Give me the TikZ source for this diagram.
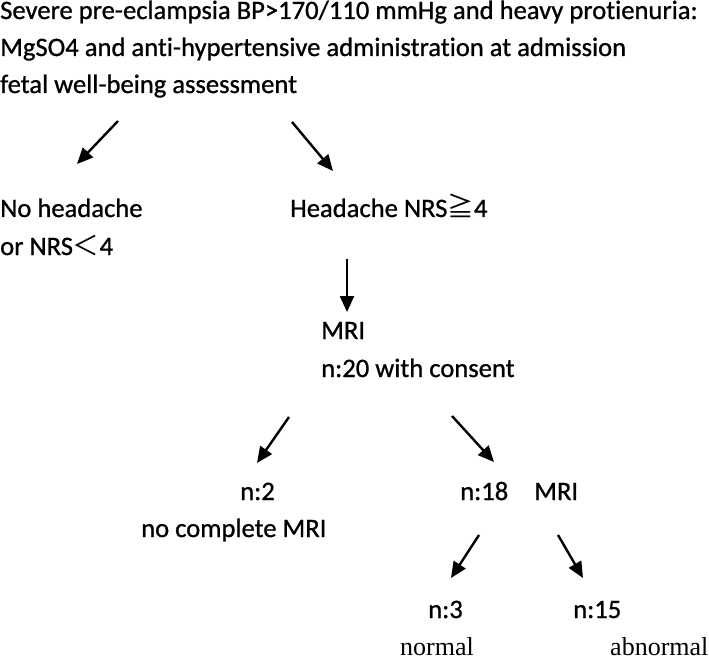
\documentclass[tikz,border=0pt]{standalone}
\usepackage{fontspec}
\setmainfont{Carlito}[Ligatures=NoCommon,FakeBold=0.9]
\newfontfamily\cjk{Noto Sans CJK JP}
\newfontfamily\timesface{Liberation Serif}
\usetikzlibrary{arrows.meta}

\begin{document}
\begin{tikzpicture}[x=1pt,y=-1pt]
		\tikzstyle{txt}=[anchor=base west,inner sep=0pt,font=\fontsize{26.6}{30}\selectfont]
		\tikzstyle{serif}=[anchor=base west,inner sep=0pt,font=\timesface\fontsize{26}{30}\selectfont]
		\tikzstyle{arr}=[line width=2.4pt,-{Triangle[length=16pt,width=14pt]}]
		
		\useasboundingbox (0,0) rectangle (709,660);
		
		\node [txt] (top1) at (0,19) {Severe pre-eclampsia BP>170/110 mmHg and heavy protienuria:};
		\node [txt] (top2) at (0,56) {MgSO4 and anti-hypertensive administration at admission};
		\node [txt] (top3) at (0,93) {fetal well-being assessment};
		
		\node [txt] (nohead) at (0,217) {No headache};
		\node [txt] (nrslow) at (0,255) {or NRS{\cjk ＜}4};
		\node [txt] (head) at (290,217) {Headache NRS{\cjk ≧}4};
		
		\node [txt] (mri) at (321,339) {MRI};
		\node [txt] (consent) at (321,377) {n:20 with consent};
		
		\node [txt] (ntwo) at (240,500) {n:2};
		\node [txt] (nomri) at (141,537) {no complete MRI};
		\node [txt] (neighteen) at (460,500) {n:18\hspace{26pt}MRI};
		
		\node [txt] (nthree) at (428,618) {n:3};
		\node [txt] (nfifteen) at (573,618) {n:15};
		\node [serif] (normal) at (400,655) {normal};
		\node [serif] (abnormal) at (610,655) {abnormal};
		
		\coordinate (a1s) at (118,121); \coordinate (a1e) at (77,164);
		\coordinate (a2s) at (292,122); \coordinate (a2e) at (333,171);
		\coordinate (a3s) at (347,259); \coordinate (a3e) at (347,312);
		\coordinate (a4s) at (289,417); \coordinate (a4e) at (257,463);
		\coordinate (a5s) at (452,416); \coordinate (a5e) at (494,462);
		\coordinate (a6s) at (479,535); \coordinate (a6e) at (451,578);
		\coordinate (a7s) at (558,535); \coordinate (a7e) at (583,578);
		
		\foreach \a in {a1,a2,a3,a4,a5,a6,a7}
			\draw [arr] (\a s) -- (\a e);
\end{tikzpicture}
\end{document}
